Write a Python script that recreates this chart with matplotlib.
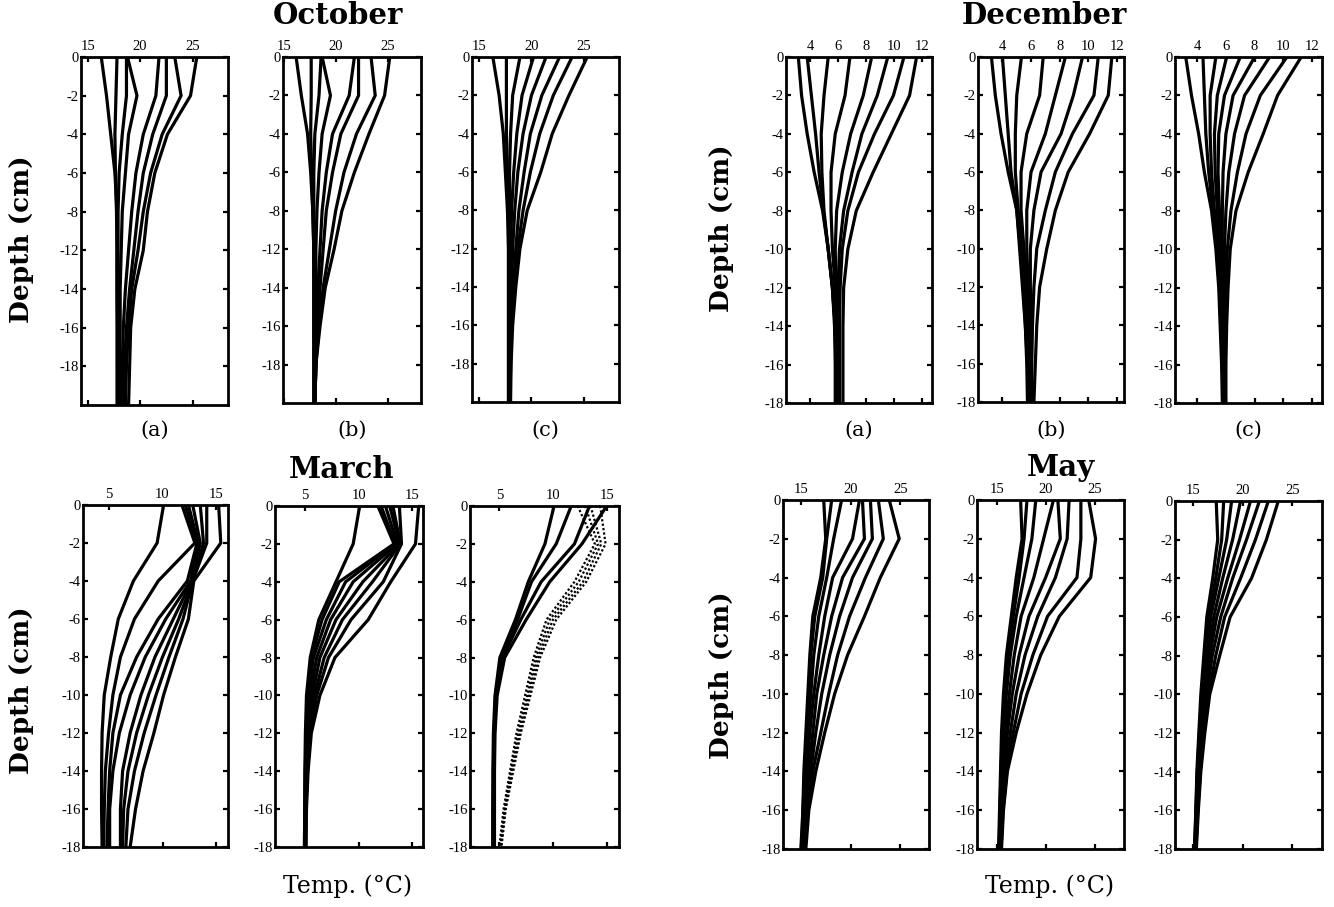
import matplotlib
matplotlib.use('Agg')
import matplotlib.pyplot as plt

plt.rcParams['axes.unicode_minus'] = False

W, H = 1334, 907

# ---------------- data ----------------
depths = [0, -2, -4, -6, -8, -10, -12, -14, -16, -18]

oct_yticklabels = ['0', '-2', '-4', '-6', '-8', '-12', '-14', '-16', '-18']
std_yticklabels = ['0', '-2', '-4', '-6', '-8', '-10', '-12', '-14', '-16', '-18']

oct_xticks = [15, 20, 25]
dec_xticks = [4, 6, 8, 10, 12]
mar_xticks = [5, 10, 15]
may_xticks = [15, 20, 25]

panel_letters = ['(a)', '(b)', '(c)']
month_titles = ['October', 'December', 'March', 'May']

oct_a = [
    [16.3, 16.8, 17.2, 17.6, 17.8, 17.8, 17.8, 17.8, 17.8, 17.8],
    [17.8, 17.7, 17.6, 17.65, 17.75, 17.8, 17.8, 17.85, 17.85, 17.9],
    [18.7, 18.7, 18.3, 18.0, 17.9, 17.9, 17.95, 18.0, 18.0, 18.0],
    [18.8, 19.7, 18.9, 18.6, 18.3, 18.2, 18.1, 18.1, 18.05, 18.1],
    [21.8, 21.5, 20.3, 19.6, 19.2, 18.9, 18.6, 18.4, 18.3, 18.2],
    [22.5, 22.5, 21.2, 20.3, 19.8, 19.4, 19.0, 18.7, 18.5, 18.4],
    [23.3, 23.9, 22.1, 21.0, 20.3, 19.8, 19.2, 18.9, 18.7, 18.6],
    [25.4, 24.8, 22.6, 21.4, 20.7, 20.3, 19.5, 19.1, 19.0, 18.9],
]
oct_b = [
    [16.2, 16.7, 17.3, 17.6, 17.8, 17.9, 17.9, 17.9, 17.9, 17.9],
    [17.65, 17.65, 17.6, 17.7, 17.8, 17.9, 17.9, 17.9, 17.9, 17.9],
    [18.6, 18.4, 18.0, 17.9, 17.9, 17.9, 18.0, 18.0, 18.0, 18.0],
    [18.7, 19.5, 18.7, 18.4, 18.2, 18.1, 18.1, 18.0, 18.0, 18.0],
    [21.8, 21.3, 19.7, 19.1, 18.7, 18.5, 18.3, 18.2, 18.1, 18.0],
    [22.2, 22.2, 20.5, 19.7, 19.1, 18.8, 18.5, 18.3, 18.1, 18.0],
    [23.4, 23.8, 22.0, 20.8, 20.0, 19.4, 18.8, 18.4, 18.1, 18.0],
    [25.2, 24.7, 23.2, 21.8, 20.6, 19.85, 19.0, 18.5, 18.1, 18.0],
]
oct_c = [
    [16.3, 16.9, 17.3, 17.5, 17.7, 17.8, 17.8, 17.8, 17.8, 17.8],
    [17.6, 17.6, 17.6, 17.7, 17.8, 17.8, 17.8, 17.8, 17.8, 17.8],
    [18.9, 18.2, 18.0, 17.9, 17.9, 17.9, 17.9, 17.9, 17.9, 17.9],
    [20.2, 19.1, 18.6, 18.3, 18.1, 18.0, 18.0, 17.9, 17.9, 17.9],
    [21.4, 20.0, 19.2, 18.7, 18.4, 18.2, 18.1, 18.0, 17.95, 17.9],
    [22.7, 21.0, 19.9, 19.3, 18.8, 18.5, 18.3, 18.1, 18.0, 17.95],
    [23.9, 22.1, 20.8, 19.9, 19.2, 18.7, 18.4, 18.1, 18.0, 17.95],
    [25.35, 23.6, 22.0, 20.9, 19.6, 18.9, 18.5, 18.2, 18.05, 18.0],
]

dec_a = [
    [3.17, 3.4, 3.8, 4.3, 4.9, 5.3, 5.6, 5.75, 5.8, 5.8],
    [3.8, 4.1, 4.4, 4.65, 4.95, 5.3, 5.6, 5.8, 5.85, 5.85],
    [5.3, 5.0, 4.8, 4.85, 5.0, 5.3, 5.6, 5.8, 5.85, 5.9],
    [6.85, 6.5, 5.8, 5.5, 5.5, 5.6, 5.8, 5.9, 5.95, 6.0],
    [8.4, 7.8, 6.9, 6.3, 5.9, 5.8, 5.85, 5.95, 6.0, 6.0],
    [9.55, 8.8, 7.7, 7.0, 6.4, 6.1, 6.0, 6.0, 6.05, 6.05],
    [10.7, 9.95, 8.6, 7.45, 6.7, 6.3, 6.15, 6.1, 6.1, 6.1],
    [11.6, 11.1, 9.8, 8.5, 7.3, 6.7, 6.4, 6.35, 6.35, 6.35],
]
dec_b = [
    [3.23, 3.5, 3.9, 4.4, 5.0, 5.2, 5.4, 5.6, 5.7, 5.75],
    [4.0, 4.2, 4.4, 4.6, 5.0, 5.25, 5.45, 5.6, 5.75, 5.8],
    [5.33, 5.0, 4.9, 4.9, 5.1, 5.4, 5.55, 5.7, 5.8, 5.85],
    [6.85, 6.6, 5.7, 5.3, 5.3, 5.5, 5.7, 5.8, 5.85, 5.9],
    [8.4, 7.7, 7.0, 6.0, 5.7, 5.7, 5.8, 5.9, 5.95, 6.0],
    [9.6, 8.96, 8.1, 6.7, 6.2, 5.95, 5.95, 6.0, 6.0, 6.0],
    [10.7, 10.4, 8.9, 7.7, 7.0, 6.4, 6.2, 6.1, 6.05, 6.05],
    [11.65, 11.4, 10.1, 8.6, 7.7, 7.1, 6.6, 6.4, 6.3, 6.2],
]
dec_c = [
    [3.2, 3.6, 4.1, 4.5, 5.0, 5.3, 5.5, 5.6, 5.7, 5.75],
    [4.4, 4.5, 4.6, 4.8, 5.1, 5.35, 5.55, 5.65, 5.75, 5.8],
    [5.3, 4.9, 4.9, 5.0, 5.2, 5.45, 5.6, 5.7, 5.8, 5.8],
    [6.05, 5.4, 5.2, 5.25, 5.4, 5.55, 5.65, 5.75, 5.8, 5.85],
    [7.0, 5.9, 5.5, 5.45, 5.55, 5.65, 5.75, 5.8, 5.85, 5.85],
    [8.0, 6.5, 6.0, 5.8, 5.75, 5.75, 5.8, 5.85, 5.9, 5.9],
    [9.05, 7.3, 6.6, 6.2, 6.0, 5.9, 5.9, 5.9, 5.9, 5.9],
    [10.25, 8.4, 7.4, 6.8, 6.35, 6.1, 6.0, 5.95, 5.95, 5.95],
    [11.25, 9.6, 8.6, 7.55, 6.7, 6.3, 6.15, 6.05, 6.0, 6.0],
]

mar_a = [
    [10.1, 9.5, 7.3, 5.9, 5.2, 4.6, 4.4, 4.35, 4.35, 4.4],
    [11.8, 13.0, 9.6, 7.4, 6.1, 5.4, 5.0, 4.7, 4.6, 4.55],
    [12.1, 13.2, 12.3, 9.6, 7.6, 6.1, 5.4, 5.1, 4.95, 4.85],
    [12.4, 13.3, 12.6, 10.3, 8.4, 7.0, 6.0, 5.4, 5.1, 5.1],
    [12.8, 13.5, 12.7, 11.0, 9.3, 8.0, 7.0, 6.3, 6.1, 6.1],
    [13.5, 13.8, 12.8, 11.5, 10.0, 8.7, 7.6, 6.8, 6.4, 6.3],
    [14.1, 14.1, 12.8, 11.9, 10.6, 9.4, 8.3, 7.4, 6.8, 6.6],
    [15.2, 15.4, 12.9, 12.4, 11.2, 10.1, 9.2, 8.2, 7.5, 7.0],
]
mar_b = [
    [10.1, 9.5, 7.9, 6.3, 5.5, 5.15, 5.05, 5.0, 5.0, 4.95],
    [11.8, 13.3, 8.2, 6.6, 5.6, 5.25, 5.1, 5.05, 5.0, 5.0],
    [12.1, 13.4, 8.8, 7.0, 5.8, 5.35, 5.15, 5.05, 5.0, 5.0],
    [12.5, 13.6, 9.5, 7.4, 6.1, 5.5, 5.2, 5.1, 5.05, 5.0],
    [12.9, 13.8, 10.4, 7.9, 6.4, 5.7, 5.3, 5.15, 5.05, 5.05],
    [13.2, 13.9, 11.3, 8.5, 6.8, 5.9, 5.4, 5.2, 5.1, 5.05],
    [13.8, 14.0, 12.3, 9.3, 7.2, 6.1, 5.5, 5.25, 5.1, 5.1],
    [15.6, 15.3, 13.0, 10.9, 7.8, 6.4, 5.6, 5.3, 5.15, 5.1],
]
mar_c_solid = [
    [10.1, 9.25, 7.7, 6.5, 5.05, 4.6, 4.45, 4.4, 4.4, 4.4],
    [11.7, 10.3, 8.0, 6.7, 5.15, 4.65, 4.5, 4.45, 4.4, 4.4],
    [13.4, 12.0, 8.9, 7.0, 5.3, 4.7, 4.55, 4.5, 4.45, 4.45],
    [15.0, 12.7, 9.7, 7.5, 5.5, 4.8, 4.6, 4.55, 4.55, 4.55],
]
mar_c_dotted = [
    [12.3, 13.9, 12.0, 9.4, 8.2, 7.4, 6.6, 6.0, 5.4, 5.0],
    [13.0, 14.2, 12.4, 9.7, 8.4, 7.6, 6.75, 6.1, 5.5, 5.1],
    [13.5, 14.5, 12.8, 10.0, 8.6, 7.75, 6.9, 6.2, 5.55, 5.15],
    [14.4, 14.9, 13.1, 10.3, 8.8, 7.9, 7.0, 6.3, 5.6, 5.2],
]

may_a = [
    [17.3, 17.5, 17.0, 16.2, 15.9, 15.7, 15.5, 15.3, 15.2, 15.0],
    [18.1, 17.6, 17.2, 16.4, 16.0, 15.8, 15.6, 15.4, 15.2, 15.1],
    [19.1, 18.3, 17.6, 16.8, 16.3, 16.0, 15.7, 15.5, 15.3, 15.2],
    [20.9, 20.2, 18.2, 17.4, 16.8, 16.3, 15.9, 15.6, 15.4, 15.2],
    [21.2, 21.4, 19.2, 18.1, 17.3, 16.6, 16.2, 15.8, 15.5, 15.3],
    [22.0, 22.2, 20.2, 18.9, 17.9, 17.1, 16.5, 16.0, 15.6, 15.35],
    [22.8, 23.3, 21.5, 19.9, 18.7, 17.8, 17.0, 16.2, 15.7, 15.4],
    [23.9, 24.9, 23.0, 21.4, 19.7, 18.4, 17.4, 16.5, 15.8, 15.5],
]
may_b = [
    [17.45, 17.6, 17.0, 16.5, 16.0, 15.7, 15.5, 15.4, 15.3, 15.2],
    [18.1, 17.8, 17.3, 16.7, 16.2, 15.8, 15.6, 15.45, 15.35, 15.25],
    [19.0, 18.6, 17.8, 17.0, 16.4, 16.0, 15.7, 15.5, 15.4, 15.3],
    [20.8, 19.8, 18.8, 17.5, 16.8, 16.3, 15.9, 15.6, 15.45, 15.3],
    [21.25, 21.5, 20.0, 18.3, 17.3, 16.6, 16.1, 15.75, 15.5, 15.35],
    [22.4, 22.2, 21.0, 19.2, 17.9, 17.0, 16.4, 15.9, 15.6, 15.4],
    [23.6, 23.6, 23.2, 20.2, 18.7, 17.5, 16.7, 16.05, 15.65, 15.45],
    [24.4, 25.1, 24.6, 21.4, 19.5, 18.1, 17.0, 16.1, 15.7, 15.5],
]
may_c = [
    [17.35, 17.5, 17.0, 16.4, 16.1, 15.8, 15.6, 15.4, 15.3, 15.15],
    [18.1, 17.9, 17.3, 16.6, 16.2, 15.9, 15.65, 15.45, 15.3, 15.2],
    [18.9, 18.4, 17.6, 16.8, 16.35, 16.0, 15.7, 15.5, 15.35, 15.2],
    [19.8, 19.0, 18.0, 17.1, 16.5, 16.1, 15.8, 15.55, 15.4, 15.25],
    [20.8, 19.7, 18.5, 17.4, 16.7, 16.25, 15.9, 15.6, 15.4, 15.3],
    [21.7, 20.4, 19.0, 17.8, 16.95, 16.4, 16.0, 15.7, 15.45, 15.3],
    [22.6, 21.3, 19.8, 18.2, 17.3, 16.6, 16.1, 15.75, 15.5, 15.3],
    [23.6, 22.4, 20.9, 18.75, 17.7, 16.7, 16.2, 15.8, 15.55, 15.35],
]

# ---------------- drawing ----------------
fig = plt.figure(figsize=(W / 100, H / 100), dpi=100)
fig.patch.set_facecolor('white')

TICKFONT = dict(family='Liberation Serif', size=10.5)


def add_panel(box, xlim, xticks, curves, ylabels, dotted=None):
    l, r, t, b = box
    ax = fig.add_axes([l / W, 1 - b / H, (r - l) / W, (b - t) / H])
    for c in curves:
        ax.plot(c, depths, color='black', lw=2.3, solid_joinstyle='miter')
    if dotted:
        for c in dotted:
            ax.plot(c, depths, color='black', lw=1.6, linestyle=(0, (1, 1)))
    ax.set_xlim(*xlim)
    ax.set_ylim(-18, 0)
    ax.set_xticks(xticks)
    ax.set_xticklabels([str(v) for v in xticks], **TICKFONT)
    ypos = depths[:len(ylabels)]
    ax.set_yticks(ypos)
    ax.set_yticklabels(ylabels, **TICKFONT)
    ax.xaxis.set_ticks_position('both')
    ax.yaxis.set_ticks_position('both')
    ax.tick_params(axis='x', direction='in', length=3.5, width=1.6,
                   labeltop=True, labelbottom=False, pad=3)
    ax.tick_params(axis='y', direction='in', length=3.5, width=1.6,
                   labelleft=True, labelright=False, pad=1.5)
    for s in ax.spines.values():
        s.set_linewidth(2.0)
    return ax


add_panel((81, 228, 57, 405), (14.37, 28.37), oct_xticks, oct_a, oct_yticklabels)
add_panel((283, 421, 57, 403), (14.94, 28.2), oct_xticks, oct_b, oct_yticklabels)
add_panel((472, 619, 57, 402), (14.3, 28.4), oct_xticks, oct_c, oct_yticklabels)

add_panel((786, 932, 57, 403), (2.29, 12.7), dec_xticks, dec_a, std_yticklabels)
add_panel((978, 1124, 57, 402), (2.29, 12.5), dec_xticks, dec_b, std_yticklabels)
add_panel((1175, 1322, 57, 403), (2.45, 12.7), dec_xticks, dec_c, std_yticklabels)

add_panel((83, 228, 505, 847), (2.63, 16.07), mar_xticks, mar_a, std_yticklabels)
add_panel((275, 423, 506, 847), (2.22, 16.0), mar_xticks, mar_b, std_yticklabels)
add_panel((470, 619, 506, 847), (2.27, 16.15), mar_xticks, mar_c_solid,
          std_yticklabels, dotted=mar_c_dotted)

add_panel((783, 929, 500, 849), (13.2, 27.9), may_xticks, may_a, std_yticklabels)
add_panel((977, 1124, 500, 849), (13.0, 28.0), may_xticks, may_b, std_yticklabels)
add_panel((1175, 1322, 501, 849), (13.2, 28.0), may_xticks, may_c, std_yticklabels)


def ftext(x, y, s, **kw):
    fig.text(x / W, 1 - y / H, s, ha='center', va='center', **kw)


TITLE = dict(family='DejaVu Serif', weight='bold', size=21)
ftext(338, 16, month_titles[0], **TITLE)
ftext(1044, 16, month_titles[1], **TITLE)
ftext(342, 469, month_titles[2], **TITLE)
ftext(1061, 467, month_titles[3], **TITLE)

LETTER = dict(family='DejaVu Serif', size=15)
for xs in ([155, 352, 545], [859, 1051, 1248]):
    for x, s in zip(xs, panel_letters):
        ftext(x, 430, s, **LETTER)

DEPTH = dict(family='DejaVu Serif', weight='bold', size=19, rotation=90)
ftext(22, 239, 'Depth (cm)', **DEPTH)
ftext(722, 228, 'Depth (cm)', **DEPTH)
ftext(22, 690, 'Depth (cm)', **DEPTH)
ftext(722, 675, 'Depth (cm)', **DEPTH)

TEMP = dict(family='DejaVu Serif', size=17)
ftext(348, 886, 'Temp. (°C)', **TEMP)
ftext(1050, 886, 'Temp. (°C)', **TEMP)

fig.savefig('out.png', dpi=100, facecolor='white')
